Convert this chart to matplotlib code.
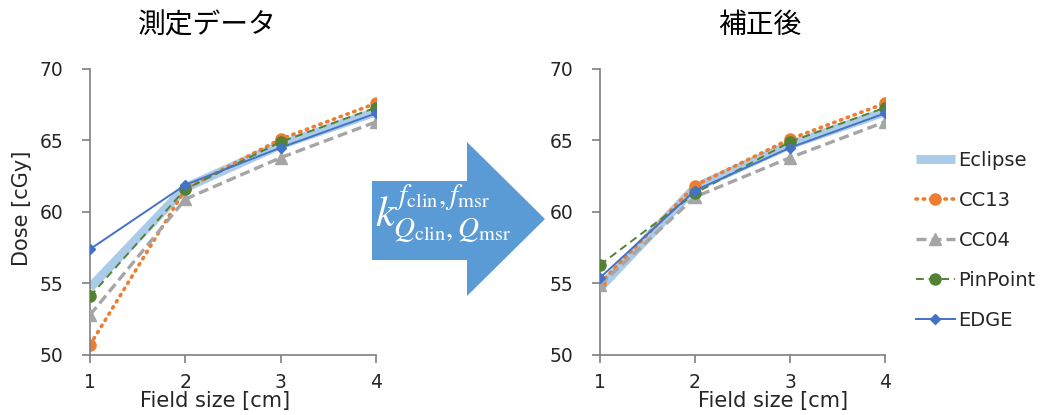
import matplotlib
matplotlib.use("Agg")
import matplotlib.pyplot as plt
from matplotlib.patches import Polygon
from matplotlib.lines import Line2D

# Field sizes [cm]
field_size = [1, 2, 3, 4]

# Calculated dose (treatment planning system)
eclipse = [54.7, 61.7, 64.7, 67.0]

# Measured dose [cGy]
cc13_meas = [50.7, 61.6, 65.1, 67.6]
cc04_meas = [52.8, 60.9, 63.8, 66.3]
pinpoint_meas = [54.1, 61.6, 64.9, 67.3]
edge_meas = [57.4, 61.9, 64.5, 66.9]

# Dose after output-correction factor
cc13_corr = [55.0, 61.85, 65.1, 67.6]
cc04_corr = [54.9, 61.05, 63.8, 66.3]
pinpoint_corr = [56.3, 61.3, 64.9, 67.3]
edge_corr = [55.4, 61.5, 64.5, 66.9]

titles = ["測定データ", "補正後"]
series_names = ["Eclipse", "CC13", "CC04", "PinPoint", "EDGE"]
y_ticks = [50, 55, 60, 65, 70]

plt.rcParams["font.family"] = ["DejaVu Sans"]
plt.rcParams["mathtext.fontset"] = "stix"

C_ECL = "#9DC3E6"
C_CC13 = "#ED7D31"
C_CC04 = "#A5A5A5"
C_PP = "#548235"
C_EDGE = "#4472C4"
C_AXIS = "#7F7F7F"
C_TEXT = "#262626"

W, H = 1041, 415
fig = plt.figure(figsize=(W / 100, H / 100), dpi=100)


def fx(px):
    return px / W


def fy(py):
    return 1 - py / H


styles = [
    dict(color=C_ECL, lw=6.5, solid_capstyle="butt", alpha=0.85, zorder=1),
    dict(color=C_CC13, lw=2.6, ls=(0, (0.4, 1.6)), dash_capstyle="round",
         marker="o", ms=8, zorder=2),
    dict(color=C_CC04, lw=2.4, ls=(0, (3, 1.5)), marker="^", ms=8, zorder=3),
    dict(color=C_PP, lw=1.4, ls=(0, (4, 2.5)), marker="o", ms=8, zorder=4),
    dict(color=C_EDGE, lw=1.4, marker="D", ms=5.5, zorder=5),
]


def draw_panel(ax, data):
    for vals, st in zip(data, styles):
        ax.plot(field_size, vals, **st)
    ax.set_xlim(1, 4)
    ax.set_ylim(50, 70)
    ax.set_xticks(field_size)
    ax.set_yticks(y_ticks)
    for s in ("top", "right"):
        ax.spines[s].set_visible(False)
    for s in ("left", "bottom"):
        ax.spines[s].set_color(C_AXIS)
        ax.spines[s].set_linewidth(1.2)
    ax.tick_params(colors=C_AXIS, labelcolor=C_TEXT, labelsize=13.5,
                   length=6, width=1.2)
    ax.tick_params(axis="y", pad=13)
    ax.tick_params(axis="x", pad=7)
    ax.patch.set_alpha(0)


ax1 = fig.add_axes([fx(90), fy(355), fx(376) - fx(90), fy(69) - fy(355)])
draw_panel(ax1, [eclipse, cc13_meas, cc04_meas, pinpoint_meas, edge_meas])
ax2 = fig.add_axes([fx(600), fy(355), fx(885) - fx(600), fy(69) - fy(355)])
draw_panel(ax2, [eclipse, cc13_corr, cc04_corr, pinpoint_corr, edge_corr])

fig.text(fx(22), fy(208), "Dose [cGy]", rotation=90, ha="center",
         va="center", fontsize=15, color=C_TEXT)
fig.text(fx(215), fy(401), "Field size [cm]", ha="center", va="center",
         fontsize=15, color=C_TEXT)
fig.text(fx(773), fy(401), "Field size [cm]", ha="center", va="center",
         fontsize=15, color=C_TEXT)

fig.text(fx(207), fy(25), titles[0], ha="center", va="center", fontsize=20,
         family=["Noto Sans CJK JP", "DejaVu Sans"], color="black")
fig.text(fx(760), fy(25), titles[1], ha="center", va="center", fontsize=20,
         family=["Noto Sans CJK JP", "DejaVu Sans"], color="black")

# Block arrow between the panels
arrow_px = [(372, 181), (467, 181), (467, 142), (545, 219),
            (467, 296), (467, 260), (372, 260)]
fig.patches.append(Polygon([(fx(x), fy(y)) for x, y in arrow_px], closed=True,
                           transform=fig.transFigure, facecolor="#5B9BD5",
                           edgecolor="none", zorder=0))
# Correction factor symbol: k with stacked super- and subscripts
fig.text(fx(375), fy(226), r"$k$", ha="left", va="baseline",
         fontsize=31, color="white")
fig.text(fx(394), fy(204), r"$f_{\mathrm{clin}},f_{\mathrm{msr}}$",
         ha="left", va="baseline", fontsize=21, color="white")
fig.text(fx(393), fy(237), r"$Q_{\mathrm{clin}},Q_{\mathrm{msr}}$",
         ha="left", va="baseline", fontsize=21, color="white")

handles = [Line2D([], [], **{k: v for k, v in st.items() if k != "zorder"})
           for st in styles]
fig.legend(handles, series_names, loc="upper left",
           bbox_to_anchor=(fx(908), fy(143)), frameon=False, fontsize=14,
           handlelength=2.0, handletextpad=0.2, labelspacing=1.08,
           borderaxespad=0, labelcolor=C_TEXT)

fig.savefig("out.png", dpi=100, facecolor="white")
